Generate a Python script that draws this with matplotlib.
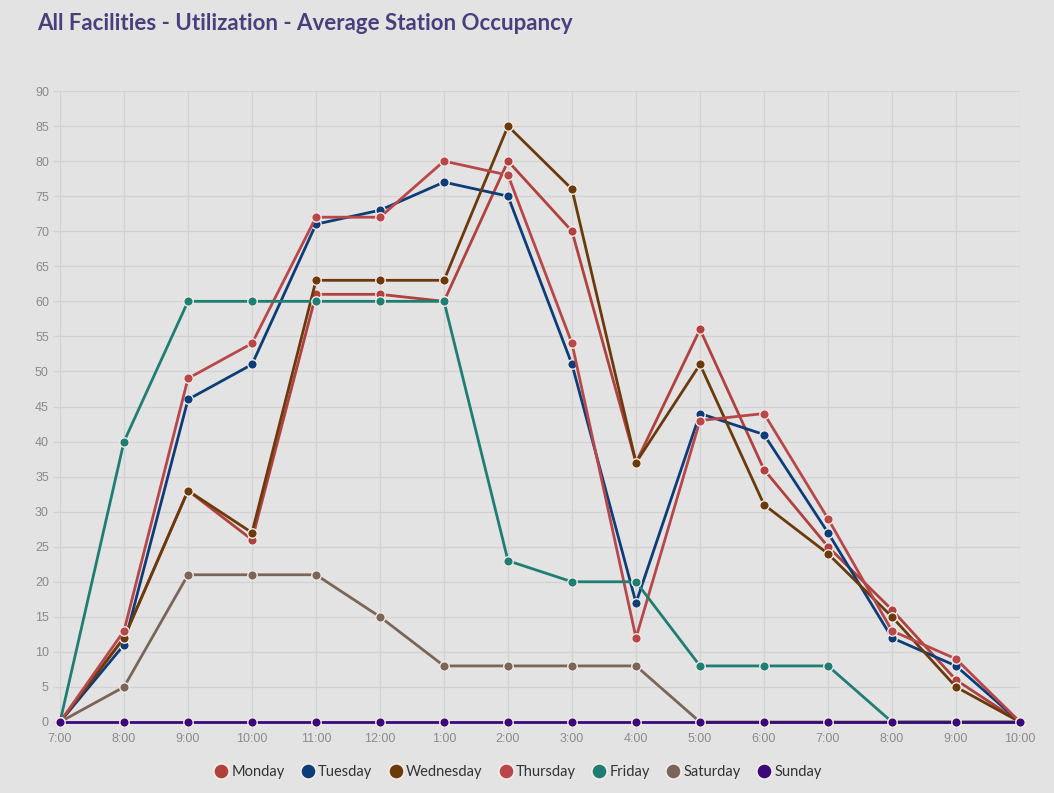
import matplotlib
matplotlib.use("Agg")
import matplotlib.pyplot as plt
from matplotlib.lines import Line2D

# Hourly time slots, 7:00 AM through 10:00 PM
hours = ["7:00", "8:00", "9:00", "10:00", "11:00", "12:00", "1:00", "2:00",
         "3:00", "4:00", "5:00", "6:00", "7:00", "8:00", "9:00", "10:00"]

monday    = [0, 12, 33, 26, 61, 61, 60, 80, 70, 37, 56, 36, 25, 16, 6, 0]
tuesday   = [0, 11, 46, 51, 71, 73, 77, 75, 51, 17, 44, 41, 27, 12, 8, 0]
wednesday = [0, 12, 33, 27, 63, 63, 63, 85, 76, 37, 51, 31, 24, 15, 5, 0]
thursday  = [0, 13, 49, 54, 72, 72, 80, 78, 54, 12, 43, 44, 29, 13, 9, 0]
friday    = [0, 40, 60, 60, 60, 60, 60, 23, 20, 20, 8, 8, 8, 0, 0, 0]
saturday  = [0, 5, 21, 21, 21, 15, 8, 8, 8, 8, 0, 0, 0, 0, 0, 0]
sunday    = [0, 0, 0, 0, 0, 0, 0, 0, 0, 0, 0, 0, 0, 0, 0, 0]

days = ["Monday", "Tuesday", "Wednesday", "Thursday", "Friday", "Saturday", "Sunday"]
series = [monday, tuesday, wednesday, thursday, friday, saturday, sunday]
colors = ["#b0413e", "#0d3d78", "#6a3a0c", "#b8474a", "#1f7e74", "#7a6658", "#3a0a78"]

y_ticks = list(range(0, 95, 5))

bg = "#e3e3e3"
fig = plt.figure(figsize=(10.54, 7.93), dpi=100, facecolor=bg)
ax = fig.add_axes([60 / 1054, 1 - 722 / 793, 960 / 1054, 631 / 793])
ax.set_facecolor(bg)

x = list(range(len(hours)))
for i, (name, vals, col) in enumerate(zip(days, series, colors)):
    ax.plot(x, vals, color=col, lw=2.0, marker="o", ms=6.8,
            markerfacecolor=col, markeredgecolor="#f3e9e4", markeredgewidth=1.0,
            label=name, zorder=3 + i, clip_on=False)

ax.set_xlim(0, len(hours) - 1)
ax.set_ylim(0, 90)
ax.set_xticks(x)
ax.set_xticklabels(hours)
ax.set_yticks(y_ticks)
ax.grid(True, color="#d2d2d2", lw=0.9, zorder=0)
for s in ax.spines.values():
    s.set_visible(False)
ax.tick_params(axis="both", colors="#d2d2d2", labelcolor="#8a8a8a",
               labelsize=9, length=5, width=0.9, pad=3)
for lbl in ax.get_xticklabels() + ax.get_yticklabels():
    lbl.set_fontfamily(["Liberation Sans", "DejaVu Sans"])

fig.text(37 / 1054, 1 - 23 / 793, "All Facilities - Utilization - Average Station Occupancy",
         fontsize=16, fontweight="bold", color="#4a3f7c",
         family=["Lato", "DejaVu Sans"], va="center", ha="left")

handles = [Line2D([], [], ls="none", marker="o", ms=11, markerfacecolor=c,
                  markeredgecolor="#f5ece8", markeredgewidth=1.2) for c in colors]
leg = fig.legend(handles, days, loc="center", bbox_to_anchor=(517 / 1054, 1 - 772 / 793),
                 ncol=7, frameon=False, handletextpad=0.1, columnspacing=1.0,
                 handlelength=1.2, prop={"family": ["Lato", "DejaVu Sans"], "size": 10.5})
for t in leg.get_texts():
    t.set_color("#333333")

fig.savefig("out.png", dpi=100, facecolor=bg)
